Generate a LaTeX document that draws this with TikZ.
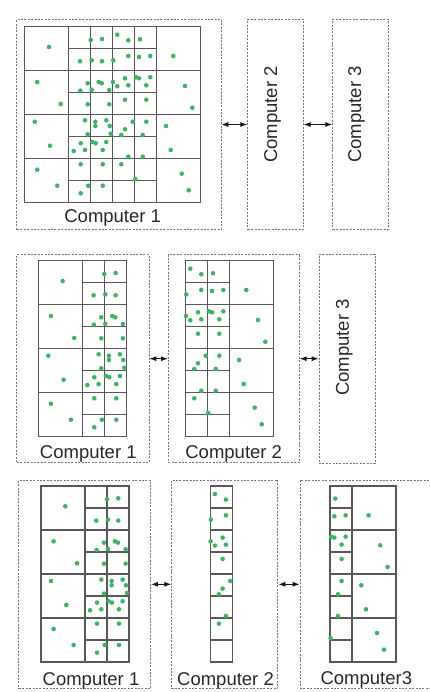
\documentclass[tikz,border=0pt]{standalone}
\usepackage{fontspec}
\setmainfont{Liberation Sans}
\usetikzlibrary{arrows.meta}

\definecolor{ptgreen}{RGB}{64,178,102}
\definecolor{gridgray}{RGB}{88,88,88}
\definecolor{boxgray}{RGB}{120,120,120}
\definecolor{labelgray}{RGB}{40,40,40}

% Particle positions, given in the frame of the full (undivided) domain
\newcommand\allpoints{%
49/47, 37.3/82, 60.7/104, 34.7/121.7, 50/145.7, 37.3/169.7, 57.3/185.7,
173.3/56, 185/86, 192.3/107.7, 166/126, 170.7/150, 181.7/173.7, 188.7/190.3,
90.7/40, 102/39, 117.3/34.7, 128.3/40.3, 140/39.3,
80/61.3, 91.7/60.3, 102/61.3, 113.3/60.3, 128.3/56, 139/57, 150.3/56,
87.7/83.3, 98.7/82, 101.7/83.3, 113/82, 125/78.3, 136/77.3, 139/78.3, 150.3/77.3,
117.3/86.3, 128.3/85.3, 146.3/85.3, 80.3/90.7, 91.7/89.7, 109.3/90,
87.7/104.3, 109.3/104.3, 125/99.7, 146.3/99.7,
85/120.3, 95.3/121.7, 95.3/126, 106.3/120.3, 109.7/126, 125/129.3, 132.7/121.7, 146.3/121.7,
87.7/134.3, 110.7/133.7, 121.3/135, 142.7/135,
80.7/143.3, 92.3/142, 95.7/143.3, 106.3/142,
73.7/151, 85/150, 102.7/150, 128.3/156.7, 142.7/156.7,
80.7/164.3, 102.7/164.3, 121.3/164.3, 135.3/179, 88.3/185.7, 102.7/185.7, 80.7/193.3}

% Draw the particles whose x lies in [#1,#2), moved by (#3,#4)
\newcommand\drawparticles[4]{%
  \begin{scope}[shift={(#3,#4)}]
    \foreach \px/\py in \allpoints {%
      \pgfmathtruncatemacro\keep{((\px>=#1)&&(\px<#2))?1:0}%
      \ifnum\keep=1 \fill[ptgreen] (\px,\py) circle[radius=2.3bp];\fi
    }
  \end{scope}}

\tikzset{
  cellline/.style={draw=gridgray, line width=1.3bp},
  dashbox/.style={draw=boxgray, dash pattern=on 2bp off 1.4bp, line width=1bp,
    inner sep=0pt, outer sep=0pt, minimum width=#1},
  lbl/.style={text=labelgray, inner sep=0pt,
    font=\fontsize{18.5bp}{22bp}\selectfont},
  twoway/.style={{Latex[length=7bp,width=5bp]}-{Latex[length=7bp,width=5bp]},
    line width=1bp, black!90, shorten <=0.3bp, shorten >=0.3bp},
}

\begin{document}
\begin{tikzpicture}[x=1bp, y=-1bp]
\useasboundingbox (0,0) rectangle (429,692);
\fill[white] (0,0) rectangle (429,692);

% ---------------- stage 1: all cells on computer 1 ----------------
\node[dashbox=204bp, minimum height=210bp] (t1) at (119,124.5) {};
\node[dashbox=55.6bp, minimum height=210bp] (t2) at (275.5,124.5) {};
\node[dashbox=55.6bp, minimum height=210bp] (t3) at (360.5,124.5) {};

\begin{scope}[shift={(24.7,26.7)}, x=22bp, y=-22bp]
  \draw[cellline] (0,0) rectangle (8,8);
  \foreach \c in {2,...,6} \draw[cellline] (\c,0) -- (\c,8);
  \foreach \r in {2,4,6} \draw[cellline] (0,\r) -- (8,\r);
  \foreach \r in {1,3,5,7} \draw[cellline] (2,\r) -- (6,\r);
\end{scope}
\drawparticles{0}{300}{0}{0}

\node[lbl, anchor=base] (t1l) at (112.7,222.5) {Computer 1};
\node[lbl, rotate=90] (t2l) at (272.5,114.5) {Computer 2};
\node[lbl, rotate=90] (t3l) at (356.7,114.5) {Computer 3};

\draw[twoway] (t1) -- (t2);
\draw[twoway] (t2) -- (t3);

% ---------------- stage 2: split between computers 1 and 2 ----------------
\node[dashbox=132bp, minimum height=207.5bp] (m1) at (83,358.7) {};
\node[dashbox=131bp, minimum height=207.5bp] (m2) at (233.8,358.7) {};
\node[dashbox=56bp, minimum height=209.4bp] (m3) at (347,358.7) {};

\begin{scope}[shift={(38.3,260.7)}, x=22bp, y=-22bp]
  \draw[cellline] (0,0) rectangle (4,8);
  \foreach \c in {2,3} \draw[cellline] (\c,0) -- (\c,8);
  \foreach \r in {2,4,6} \draw[cellline] (0,\r) -- (4,\r);
  \foreach \r in {1,3,5,7} \draw[cellline] (2,\r) -- (4,\r);
\end{scope}
\drawparticles{0}{112.7}{13.6}{234}

\begin{scope}[shift={(185.7,260.7)}, x=22bp, y=-22bp]
  \draw[cellline] (0,0) rectangle (4,8);
  \foreach \c in {1,2} \draw[cellline] (\c,0) -- (\c,8);
  \foreach \r in {2,4,6} \draw[cellline] (0,\r) -- (4,\r);
  \foreach \r in {1,3,5,7} \draw[cellline] (0,\r) -- (2,\r);
\end{scope}
\drawparticles{112.7}{300}{73}{234}

\node[lbl, anchor=base] (m1l) at (88.3,458.3) {Computer 1};
\node[lbl, anchor=base] (m2l) at (233.7,458.3) {Computer 2};
\node[lbl, rotate=90] (m3l) at (344.3,347.5) {Computer 3};

\draw[twoway] (m1) -- (m2);
\draw[twoway] (m2) -- (m3);

% ---------------- stage 3: split among three computers ----------------
\node[dashbox=131.7bp, minimum height=208.5bp] (b1) at (84.8,584.3) {};
\node[dashbox=106.3bp, minimum height=208.5bp] (b2) at (224.8,584.3) {};
\node[dashbox=132bp, minimum height=208.5bp] (b3) at (366,584.3) {};

\begin{scope}[shift={(41,486)}, x=22bp, y=-22bp]
  \draw[cellline] (0,0) rectangle (4,8);
  \foreach \c in {2,3} \draw[cellline] (\c,0) -- (\c,8);
  \foreach \r in {2,4,6} \draw[cellline] (0,\r) -- (4,\r);
  \foreach \r in {1,3,5,7} \draw[cellline] (2,\r) -- (4,\r);
\end{scope}
\drawparticles{0}{112.7}{16.3}{459.3}

\begin{scope}[shift={(210.3,486)}, x=22bp, y=-22bp]
  \draw[cellline] (0,0) rectangle (1,8);
  \foreach \r in {1,...,7} \draw[cellline] (0,\r) -- (1,\r);
\end{scope}
\drawparticles{112.7}{134.7}{97.6}{459.3}

\begin{scope}[shift={(330,486)}, x=22bp, y=-22bp]
  \draw[cellline] (0,0) rectangle (3,8);
  \draw[cellline] (1,0) -- (1,8);
  \foreach \r in {2,4,6} \draw[cellline] (0,\r) -- (3,\r);
  \foreach \r in {1,3,5,7} \draw[cellline] (0,\r) -- (1,\r);
\end{scope}
\drawparticles{134.7}{300}{195.3}{459.3}

\node[lbl, anchor=base] (b1l) at (91,685) {Computer 1};
\node[lbl, anchor=base] (b2l) at (225.5,685) {Computer 2};
\node[lbl, anchor=base] (b3l) at (366.3,684) {Computer3};

\draw[twoway] (b1) -- (b2);
\draw[twoway] (b2) -- (b3);
\end{tikzpicture}
\end{document}
